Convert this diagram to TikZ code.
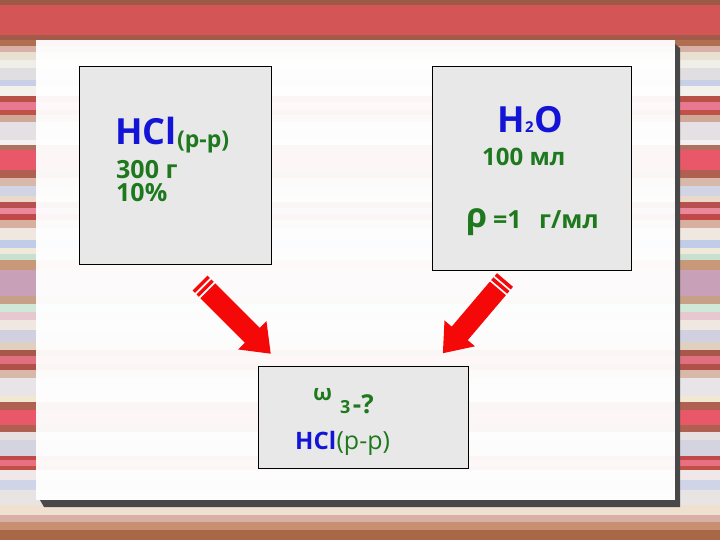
\documentclass[tikz,border=0pt]{standalone}
\usepackage{fontspec}
\setmainfont{Open Sans}
\definecolor{hblue}{RGB}{20,20,215}
\definecolor{hgreen}{RGB}{30,120,30}
\definecolor{boxgray}{RGB}{232,232,232}
\definecolor{arrred}{RGB}{245,8,8}
\definecolor{shadowgray}{RGB}{72,72,72}
\newcommand\redblockarrow[3]{%
  \begin{scope}[shift={(#1)}, rotate=#2]
    \fill[arrred] (0,-10.5) rectangle (3.5,10.5);
    \fill[arrred] (5.5,-10.5) rectangle (9,10.5);
    \fill[arrred] (11,-10.5) -- ({#3-26},-10.5) -- ({#3-26},-20) -- (#3,0)
      -- ({#3-26},20) -- ({#3-26},10.5) -- (11,10.5) -- cycle;
  \end{scope}}
\tikzset{
  boxnode/.style={draw=black, line width=0.9pt, fill=boxgray, inner sep=0},
  txt/.style={anchor=base west, inner sep=0},
  bigblue/.style={txt, text=hblue, font=\fontsize{36}{36}\selectfont\bfseries},
  greenb/.style={txt, text=hgreen, font=\fontsize{#1}{#1}\selectfont\bfseries},
  greenr/.style={txt, text=hgreen, font=\fontsize{#1}{#1}\selectfont},
}
\begin{document}
\begin{tikzpicture}[x=1pt, y=-1pt]
\useasboundingbox (0,0) rectangle (720,540);
% striped background
\foreach \a/\b/\c in {
 0/5/9C5A46, 5/35/D45555, 35/40/A45A4A, 40/46/B07050, 46/52/D8B0A8,
 52/60/E8E0D0, 60/68/F0EEE8, 68/80/E0DEE0, 80/86/C8D0E8, 86/96/F4F0EC,
 96/102/B85048, 102/110/E87890, 110/115/C05048, 115/122/D0A898,
 122/140/E4E0E4, 140/145/F4F0F0, 145/150/B07060, 150/170/E85868,
 170/178/B06050, 178/186/D8B8A8, 186/196/D0D4E4, 196/202/EAD8C8,
 202/208/B85050, 208/214/E88898, 214/220/C04848, 220/228/D8B0A0,
 228/240/F0E8E0, 240/248/C0CCE8, 248/254/F0E8D8, 254/260/C8E0D0,
 260/270/C89878, 270/296/C8A0B8, 296/304/C8A088, 304/312/D0E8D8,
 312/320/E8C8D0, 320/330/F0E8E0, 330/342/D0D0E0, 342/350/E0D0C0,
 350/356/A85848, 356/364/E07080, 364/370/B05048, 370/378/D8B8A8,
 378/396/E8E4E8, 396/402/F0E8D0, 402/410/B06050, 410/425/E85868,
 425/432/B06050, 432/440/E8E0E0, 440/456/D4D4E0, 456/460/C04848,
 460/466/E87080, 466/470/C05048, 470/480/F0E8E8, 480/490/D0D4E8,
 490/505/E8E4E4, 505/515/F0E0D0, 515/522/D8B0A8, 522/530/C89070,
 530/540/A86848}
{ \definecolor{stc}{HTML}{\c}\fill[stc] (0,\a) rectangle (720,\b); }
% panel with shadow
\fill[shadowgray] (40,500) -- (675,500) -- (675,44) -- (680,48) -- (680,507) -- (44,507) -- cycle;
\fill[white, fill opacity=0.95] (36,40) rectangle (675,500);
% boxes
\node[boxnode, minimum width=192pt, minimum height=198pt] (hclbox) at (175,165) {};
\node[boxnode, minimum width=199pt, minimum height=204pt] (waterbox) at (531.5,168) {};
\node[boxnode, minimum width=210pt, minimum height=102pt] (resbox) at (363,417) {};
% left box text
\node[bigblue] (hcl) at (115,145) {HCl};
\node[greenb=23] (hclpp) at ([yshift=-3pt]hcl.base east) {(р-р)};
\node[greenb=25] (mass) at (116,179) {300 г};
\node[greenb=25] (pct) at (116,202) {10\%};
% right box text
\node[bigblue] (hh) at (497,133) {H};
\node[txt, text=hblue, font=\fontsize{15}{15}\selectfont\bfseries] (two) at (hh.base east) {2};
\node[bigblue] (oo) at (two.base east) {O};
\node[greenb=24] (vol) at (482,166) {100 мл};
\node[txt, text=hgreen, font=\fontsize{34}{34}\selectfont\bfseries] (rho) at (466,228) {ρ};
\node[greenb=25] (eq) at (493,229) {=1};
\node[greenb=25] (unit) at (539,229) {г/мл};
% bottom box text
\node[greenb=22] (omega) at (313,400) {ω};
\node[txt, text=hgreen, font=\fontsize{18}{18}\selectfont\bfseries] (three) at (340,413) {3};
\node[greenb=26] (q) at ([xshift=2pt]three.base east) {-?};
\node[txt, text=hblue, font=\fontsize{24}{24}\selectfont\bfseries] (hcl3) at (295,449) {HCl};
\node[greenr=25] (pp3) at (hcl3.base east) {(р-р)};
% arrows
\coordinate (la) at (200,283);
\coordinate (ra) at (505,280);
\redblockarrow{la}{-45}{100}
\redblockarrow{ra}{-130.3}{96}
\end{tikzpicture}
\end{document}
